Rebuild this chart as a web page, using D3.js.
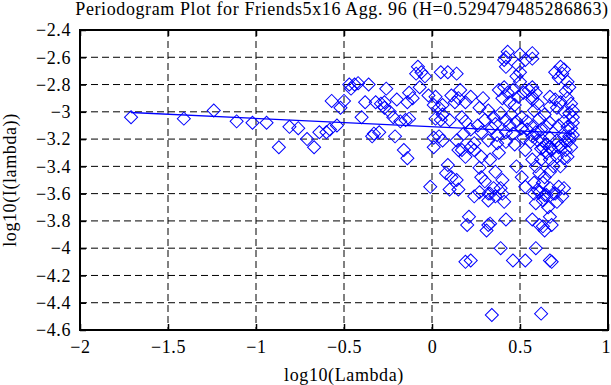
<!DOCTYPE html>
<html>
<head>
<meta charset="utf-8">
<script src="https://cdn.jsdelivr.net/npm/d3@7"></script>
<style>
  body { margin: 0; background: #fff; }
  text { font-family: "Liberation Serif", "Times New Roman", serif; fill: #000; }
</style>
</head>
<body>
<div id="chart"></div>
<script>
// Chart values
var titleText = "Periodogram Plot for Friends5x16 Agg. 96 (H=0.529479485286863)";
var xTicks = [-2, -1.5, -1, -0.5, 0, 0.5, 1];
var xTickLabels = ["\u22122", "\u22121.5", "\u22121", "\u22120.5", "0", "0.5", "1"];
var yTicks = [-2.4, -2.6, -2.8, -3, -3.2, -3.4, -3.6, -3.8, -4, -4.2, -4.4, -4.6];
var yTickLabels = ["\u22122.4", "\u22122.6", "\u22122.8", "\u22123", "\u22123.2", "\u22123.4",
  "\u22123.6", "\u22123.8", "\u22124", "\u22124.2", "\u22124.4", "\u22124.6"];

// [log10(Lambda), log10(I(lambda))]
var periodogram = [
  [-1.71,-3.04],[-1.41,-3.05],[-1.24,-2.99],[-1.11,-3.07],[-1.02,-3.08],[-0.94,-3.08],
  [-0.87,-3.26],[-0.81,-3.11],[-0.76,-3.12],[-0.71,-3.20],[-0.67,-3.26],[-0.64,-3.15],
  [-0.60,-3.15],[-0.58,-3.13],[-0.57,-2.92],[-0.54,-3.10],[-0.52,-2.97],[-0.50,-2.92],
  [-0.47,-2.80],[-0.46,-2.83],[-0.44,-2.80],[-0.42,-2.79],[-0.40,-3.04],[-0.38,-2.93],
  [-0.36,-2.80],[-0.34,-3.18],[-0.33,-3.16],[-0.32,-2.93],[-0.30,-3.15],[-0.29,-2.94],
  [-0.27,-2.93],[-0.26,-2.83],
  [-0.27,-2.97],[-0.24,-3.00],[-0.22,-3.04],[-0.21,-3.18],[-0.20,-2.91],[-0.18,-3.07],
  [-0.16,-3.28],[-0.15,-3.06],[-0.14,-2.93],[-0.14,-3.34],[-0.13,-2.86],[-0.13,-3.05],
  [-0.11,-2.90],[-0.09,-2.72],[-0.08,-2.67],[-0.07,-2.82],[-0.06,-2.71],[-0.04,-2.74],
  [-0.02,-2.88],[-0.01,-3.55],[0.01,-2.95],[0.01,-3.19],[0.01,-3.26],[0.02,-2.89],
  [0.02,-3.05],[0.04,-2.97],[0.04,-3.18],[0.05,-2.71],[0.05,-3.06],[0.06,-2.95],
  [0.06,-3.02],[0.06,-3.21],[0.08,-3.45],[0.09,-2.71],[0.09,-3.39],[0.10,-3.06],
  [0.10,-3.57],[0.11,-2.88],[0.11,-3.48],[0.13,-2.93],[0.14,-3.21],[0.15,-3.28],
  [0.14,-2.72],[0.14,-3.50],[0.15,-2.90],[0.15,-3.57],[0.16,-2.84],[0.17,-3.04],
  [0.17,-3.28],[0.19,-2.93],[0.19,-3.07],[0.19,-3.33],[0.19,-4.10],[0.20,-3.83],
  [0.21,-3.77],[0.22,-2.89],[0.22,-3.13],[0.22,-3.26],[0.22,-4.09],[0.24,-3.23],
  [0.24,-3.28],[0.24,-3.62],[0.27,-2.97],[0.27,-3.41],[0.27,-3.59],[0.28,-3.15],
  [0.28,-3.33],[0.28,-3.48],[0.30,-3.51],[0.31,-3.87],[0.32,-2.99],[0.32,-3.21],
  [0.32,-3.60],[0.32,-3.65],[0.32,-3.83],[0.33,-3.35],[0.33,-3.60],[0.33,-3.82],
  [0.34,-3.12],[0.34,-4.49],[0.35,-3.04],[0.35,-3.56],[0.36,-3.44],[0.36,-3.62],
  [0.37,-3.17],[0.37,-3.23],[0.38,-2.84],[0.38,-3.30],[0.39,-3.01],[0.39,-3.56],
  [0.39,-4.00],[0.40,-3.50],[0.40,-3.60],[0.41,-2.62],[0.41,-2.82],[0.41,-3.66],
  [0.42,-2.60],[0.42,-3.06],[0.42,-3.15],[0.42,-3.22],[0.42,-3.79],[0.42,-2.67],
  [0.43,-2.56],[0.43,-2.86],[0.45,-3.02],[0.46,-2.84],[0.46,-3.16],[0.46,-4.09],
  [0.47,-3.24],[0.48,-2.74],[0.48,-3.07],[0.48,-3.40],[0.49,-2.66],[0.49,-2.89],
  [0.50,-2.58],[0.50,-2.71],[0.50,-2.78],[0.51,-3.04],[0.51,-3.12],[0.51,-3.48],
  [0.52,-2.86],[0.52,-3.19],[0.53,-2.62],[0.53,-3.28],[0.53,-3.55],[0.53,-4.09],
  [0.54,-3.07],[0.54,-3.13],[0.55,-2.84],[0.56,-3.22],[0.57,-2.89],[0.57,-3.11],
  [0.57,-3.35],[0.18,-3.16],[0.26,-3.10],[0.30,-3.06],[0.36,-3.09],[0.44,-3.10],
  [0.47,-2.95],[0.44,-2.93],[0.40,-2.90],[0.29,-2.90],
  [0.57,-2.57],[0.57,-2.61],[0.57,-2.82],[0.57,-2.91],[0.57,-3.18],[0.57,-3.79],
  [0.58,-2.99],[0.58,-3.52],[0.58,-3.60],[0.59,-2.86],[0.59,-3.15],[0.59,-3.40],
  [0.59,-3.67],[0.59,-4.00],[0.60,-2.94],[0.60,-3.21],[0.60,-3.57],[0.61,-3.05],
  [0.61,-3.45],[0.61,-3.59],[0.61,-3.83],[0.62,-3.13],[0.62,-3.35],[0.62,-3.27],
  [0.62,-4.48],[0.63,-3.21],[0.63,-3.26],[0.63,-3.52],[0.63,-3.65],[0.63,-3.84],
  [0.64,-3.02],[0.64,-3.48],[0.64,-3.61],[0.64,-3.87],[0.65,-3.11],[0.65,-3.30],
  [0.65,-3.61],[0.65,-3.24],[0.66,-3.70],[0.67,-2.89],[0.67,-2.96],[0.67,-3.08],
  [0.67,-3.19],[0.67,-3.26],[0.67,-3.35],[0.67,-3.44],[0.67,-3.56],[0.67,-3.77],
  [0.67,-4.09],[0.68,-3.28],[0.68,-3.83],[0.68,-4.10],[0.69,-3.40],[0.69,-3.60],
  [0.70,-2.71],[0.70,-2.91],[0.70,-3.60],[0.71,-2.97],[0.71,-3.21],[0.71,-3.33],
  [0.71,-3.66],[0.72,-2.75],[0.72,-3.10],[0.72,-3.26],[0.72,-3.55],[0.73,-2.67],
  [0.73,-2.93],[0.73,-3.40],[0.73,-3.25],[0.74,-2.72],[0.74,-3.62],[0.75,-2.69],
  [0.75,-3.00],[0.75,-3.07],[0.75,-3.18],[0.75,-3.34],[0.75,-3.56],[0.76,-2.85],
  [0.76,-3.28],[0.76,-3.22],[0.77,-2.90],[0.77,-3.33],[0.77,-2.78],[0.77,-3.11],
  [0.78,-2.82],[0.78,-3.01],[0.78,-3.21],[0.78,-3.18],[0.79,-2.94],[0.79,-3.26],
  [0.79,-3.12],[0.80,-3.08],[0.80,-2.99],[0.80,-3.17],[0.80,-3.04]
];

// least squares fit line (end points)
var fitX = [-1.71, 0.81];
var fitY = [-3.005, -3.159];

var svgWidth = 611;
var svgHeight = 385;
var margin = { top: 30, right: 3, bottom: 55, left: 80 };
var width = svgWidth - margin.left - margin.right;
var height = svgHeight - margin.top - margin.bottom;

var svg = d3.select("#chart")
  .append("svg")
  .attr("width", svgWidth)
  .attr("height", svgHeight);

var chartGroup = svg.append("g")
  .attr("transform", `translate(${margin.left}, ${margin.top})`);

var xScale = d3.scaleLinear().domain([-2, 1]).range([0, width]);
var yScale = d3.scaleLinear().domain([-4.6, -2.4]).range([height, 0]);

// dashed grid
chartGroup.selectAll(".vgrid")
  .data(xTicks.slice(1, -1))
  .enter()
  .append("line")
  .attr("x1", d => xScale(d)).attr("x2", d => xScale(d))
  .attr("y1", 0).attr("y2", height)
  .attr("stroke", "#000")
  .attr("stroke-width", 1)
  .attr("stroke-dasharray", "7,4");

chartGroup.selectAll(".hgrid")
  .data(yTicks.slice(1, -1))
  .enter()
  .append("line")
  .attr("x1", 0).attr("x2", width)
  .attr("y1", d => yScale(d)).attr("y2", d => yScale(d))
  .attr("stroke", "#000")
  .attr("stroke-width", 1)
  .attr("stroke-dasharray", "7,4");

// points
chartGroup.selectAll(".pt")
  .data(periodogram)
  .enter()
  .append("path")
  .attr("d", d3.symbol().type(d3.symbolSquare).size(85))
  .attr("transform", d => `translate(${xScale(d[0])},${yScale(d[1])}) rotate(45)`)
  .attr("fill", "none")
  .attr("stroke", "#0000ff")
  .attr("stroke-width", 1);

// fit line
var line = d3.line().x(d => xScale(d[0])).y(d => yScale(d[1]));
chartGroup.append("path")
  .datum(fitX.map((v, i) => [v, fitY[i]]))
  .attr("d", line)
  .attr("fill", "none")
  .attr("stroke", "#0000ff")
  .attr("stroke-width", 1.3);

// axes, ticks pointing in
var bottomAxis = d3.axisBottom(xScale).tickValues(xTicks)
  .tickFormat((d, i) => xTickLabels[i]).tickSize(-6).tickPadding(10);
var topAxis = d3.axisTop(xScale).tickValues(xTicks).tickFormat("").tickSize(-6);
var leftAxis = d3.axisLeft(yScale).tickValues(yTicks)
  .tickFormat((d, i) => yTickLabels[i]).tickSize(-6).tickPadding(9);
var rightAxis = d3.axisRight(yScale).tickValues(yTicks).tickFormat("").tickSize(-6);

function styleAxis(g) {
  g.select(".domain").remove();
  g.selectAll(".tick line").attr("stroke", "#000").attr("stroke-width", 1.5);
  g.selectAll(".tick text")
    .style("font-family", "'Liberation Serif', serif")
    .style("font-size", "18px")
    .style("letter-spacing", "0.6px")
    .attr("fill", "#000");
}

var xAxisG = chartGroup.append("g").attr("transform", `translate(0, ${height})`).call(bottomAxis).call(styleAxis);
chartGroup.append("g").call(topAxis).call(styleAxis);
chartGroup.append("g").call(leftAxis).call(styleAxis);
chartGroup.append("g").attr("transform", `translate(${width}, 0)`).call(rightAxis).call(styleAxis);

// the last x label sits on the right edge; keep it inside the page
xAxisG.selectAll(".tick text")
  .filter(d => d === 1)
  .attr("text-anchor", "end")
  .attr("dx", "0.15em");

// frame
chartGroup.append("rect")
  .attr("width", width).attr("height", height)
  .attr("fill", "none")
  .attr("stroke", "#000")
  .attr("stroke-width", 2);

// labels
svg.append("text")
  .attr("x", margin.left + width / 2 - 2)
  .attr("y", 15)
  .attr("text-anchor", "middle")
  .style("font-size", "18px")
  .style("letter-spacing", "0.6px")
  .text(titleText);

svg.append("text")
  .attr("x", margin.left + width / 2)
  .attr("y", 381)
  .attr("text-anchor", "middle")
  .style("font-size", "18px")
  .style("letter-spacing", "0.6px")
  .text("log10(Lambda)");

svg.append("text")
  .attr("transform", `translate(16, ${margin.top + height / 2}) rotate(-90)`)
  .attr("text-anchor", "middle")
  .style("font-size", "18px")
  .style("letter-spacing", "0.6px")
  .text("log10(I(lambda))");
</script>
</body>
</html>
